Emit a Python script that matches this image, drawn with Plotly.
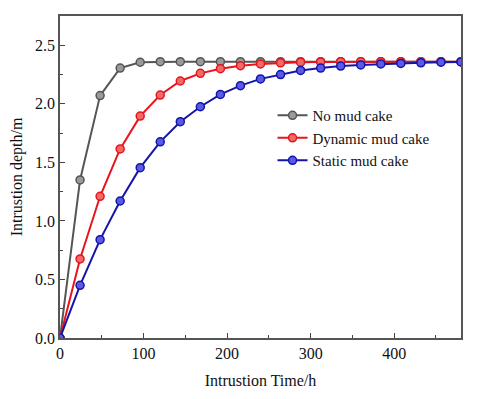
import plotly.graph_objects as go

time_h = [0, 24, 48, 72, 96, 120, 144, 168, 192, 216, 240, 264, 288, 312, 336, 360, 384, 408, 432, 456, 480]

no_cake = [0, 1.35, 2.07, 2.305, 2.355, 2.36, 2.36, 2.36, 2.36, 2.36, 2.36,
           2.36, 2.36, 2.36, 2.36, 2.36, 2.36, 2.36, 2.36, 2.36, 2.36]
dynamic_cake = [0, 0.675, 1.21, 1.615, 1.895, 2.075, 2.195, 2.26, 2.3, 2.325, 2.34,
                2.35, 2.355, 2.358, 2.36, 2.36, 2.36, 2.36, 2.36, 2.36, 2.36]
static_cake = [0, 0.45, 0.84, 1.17, 1.455, 1.675, 1.847, 1.975, 2.08, 2.155, 2.213,
               2.25, 2.285, 2.305, 2.322, 2.332, 2.34, 2.345, 2.35, 2.355, 2.358]

series = [
    ("No mud cake", no_cake, "#555555", "#9a9a9a"),
    ("Dynamic mud cake", dynamic_cake, "#e8141c", "#f06a6a"),
    ("Static mud cake", static_cake, "#1414a8", "#5a5ae6"),
]

fig = go.Figure()
for name, vals, col, fill in series:
    fig.add_trace(go.Scatter(
        x=time_h, y=vals, name=name, mode="lines+markers",
        line=dict(color=col, width=2),
        marker=dict(size=8, color=fill, line=dict(color=col, width=1.5)),
    ))

serif = "Liberation Serif, Times New Roman, serif"
font = dict(family=serif, size=16, color="#111111")

# page body has an 8px margin, so the figure is 8px smaller
fig.update_layout(
    width=472, height=391,
    margin=dict(l=52, r=19, t=8, b=61),
    paper_bgcolor="white", plot_bgcolor="white",
    font=font,
    showlegend=True,
    legend=dict(x=0.53, y=0.742, xanchor="left", yanchor="top",
                bgcolor="rgba(0,0,0,0)", font=dict(family=serif, size=15),
                tracegroupgap=0, itemwidth=30),
)
fig.update_xaxes(
    range=[0, 480], dtick=100, tick0=0, automargin=False,
    tickfont=dict(family=serif, size=16, color="#111"),
    ticks="inside", ticklen=5, tickwidth=1.2, tickcolor="#444",
    minor=dict(dtick=50, ticks="inside", ticklen=3, tickcolor="#444"),
    showline=True, linecolor="#555", linewidth=1.5, mirror=True,
    showgrid=False, zeroline=False,
    title=dict(text="Intrustion Time/h", standoff=14, font=dict(family=serif, size=16)),
)
fig.update_yaxes(
    range=[0, 2.75], dtick=0.5, tick0=0, tickformat=".1f", automargin=False,
    tickfont=dict(family=serif, size=16, color="#111"),
    ticks="inside", ticklen=5, tickwidth=1.2, tickcolor="#444",
    minor=dict(dtick=0.25, ticks="inside", ticklen=3, tickcolor="#444"),
    showline=True, linecolor="#555", linewidth=1.5, mirror=True,
    showgrid=False, zeroline=False,
    title=dict(text="Intrustion depth/m", standoff=8, font=dict(family=serif, size=16)),
)

fig.write_html("out.html")
